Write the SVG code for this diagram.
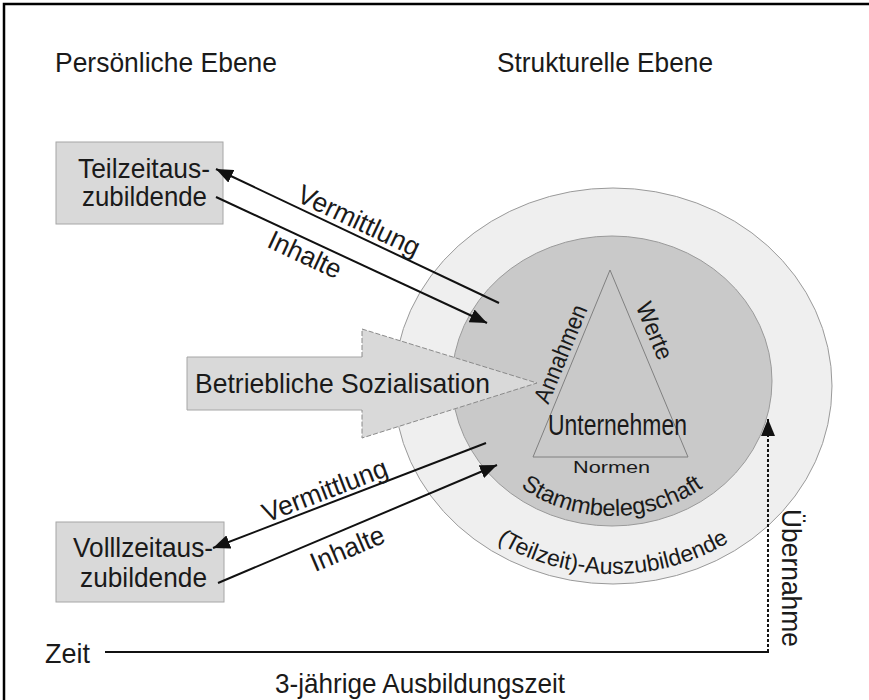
<svg xmlns="http://www.w3.org/2000/svg" width="869" height="700" viewBox="0 0 869 700">
<style>
  text { font-family: "Liberation Sans", Arial, sans-serif; fill: #1a1a1a; }
  .t28 { font-size: 28px; }
  .t27 { font-size: 27px; }
  .box { fill: #d9d9d9; stroke: #a6a6a6; stroke-width: 1; }
  .conn { stroke: #111; stroke-width: 2; fill: none; }
</style>
<defs>
  <marker id="ah" markerUnits="userSpaceOnUse" markerWidth="18" markerHeight="14" refX="17" refY="7" orient="auto">
    <path d="M0,0 L17,7 L0,14 z" fill="#111"/>
  </marker>
  <path id="arcInner" d="M 464,381 A 148 135 0 0 0 760,381"/>
  <path id="arcOuter" d="M 405,386 A 208 188 0 0 0 821,386"/>
</defs>
<rect x="0" y="0" width="869" height="700" fill="#ffffff"/>
<path d="M4,700 V4 H869" fill="none" stroke="#000" stroke-width="2.5"/>

<g id="headers">
  <text class="t28" x="55" y="72" textLength="222" lengthAdjust="spacingAndGlyphs">Persönliche Ebene</text>
  <text class="t28" x="497" y="72" textLength="216" lengthAdjust="spacingAndGlyphs">Strukturelle Ebene</text>
</g>

<g id="node-unternehmen">
  <ellipse cx="613" cy="386" rx="219" ry="198" fill="#efefef" stroke="#9a9a9a" stroke-width="1"/>
  <ellipse cx="612" cy="381" rx="160" ry="145" fill="#c9c9c9" stroke="#9a9a9a" stroke-width="1"/>
  <polygon points="610,270 533,457 688,457" fill="#c9c9c9" stroke="#808080" stroke-width="1"/>
  <text font-size="24" transform="translate(568,357) rotate(-67.6)" text-anchor="middle" textLength="104" lengthAdjust="spacingAndGlyphs">Annahmen</text>
  <text font-size="24" transform="translate(647,334) rotate(67.4)" text-anchor="middle" textLength="60" lengthAdjust="spacingAndGlyphs">Werte</text>
  <text x="548" y="435" font-size="30" textLength="139" lengthAdjust="spacingAndGlyphs">Unternehmen</text>
  <text x="573" y="473" font-size="16" textLength="77" lengthAdjust="spacingAndGlyphs">Normen</text>
  <text font-size="23.5"><textPath href="#arcInner" startOffset="50%" text-anchor="middle">Stammbelegschaft</textPath></text>
  <text font-size="23"><textPath href="#arcOuter" startOffset="50%" text-anchor="middle">(Teilzeit)-Auszubildende</textPath></text>
</g>

<g id="node-sozialisation">
  <polygon points="187,357 362,357 362,329 537,383 362,438 362,410 187,410" fill="#d9d9d9" stroke="none"/>
  <polyline points="362,357 187,357 187,410 362,410" fill="none" stroke="#a6a6a6" stroke-width="1"/>
  <polyline points="362,357 362,329 537,383 362,438 362,410" fill="none" stroke="#8a8a8a" stroke-width="1" stroke-dasharray="5,2"/>
  <text class="t28" x="195" y="393" textLength="295" lengthAdjust="spacingAndGlyphs">Betriebliche Sozialisation</text>
</g>

<g id="node-teilzeit">
  <rect class="box" x="56" y="142" width="167" height="82"/>
  <text class="t28" x="78" y="178" textLength="132" lengthAdjust="spacingAndGlyphs">Teilzeitaus-</text>
  <text class="t28" x="82" y="206" textLength="125" lengthAdjust="spacingAndGlyphs">zubildende</text>
</g>

<g id="node-vollzeit">
  <rect class="box" x="56" y="522" width="168" height="80"/>
  <text class="t28" x="73" y="557" textLength="140" lengthAdjust="spacingAndGlyphs">Volllzeitaus-</text>
  <text class="t28" x="80" y="587" textLength="127" lengthAdjust="spacingAndGlyphs">zubildende</text>
</g>

<g id="connectors">
  <line class="conn" x1="499" y1="303" x2="216" y2="169" marker-end="url(#ah)"/>
  <line class="conn" x1="216" y1="197" x2="487" y2="323" marker-end="url(#ah)"/>
  <line class="conn" x1="486" y1="443" x2="213" y2="548" marker-end="url(#ah)"/>
  <line class="conn" x1="218" y1="583" x2="497" y2="465" marker-end="url(#ah)"/>
  <line class="conn" x1="105" y1="652" x2="769" y2="652"/>
  <line x1="768" y1="652" x2="768" y2="419" stroke="#111" stroke-width="2" stroke-dasharray="3,2" marker-end="url(#ah)"/>
</g>

<g id="labels">
  <text class="t27" transform="translate(355,229) rotate(25.3)" text-anchor="middle" textLength="132" lengthAdjust="spacingAndGlyphs">Vermittlung</text>
  <text class="t27" transform="translate(301,263) rotate(25)" text-anchor="middle" textLength="78" lengthAdjust="spacingAndGlyphs">Inhalte</text>
  <text class="t27" transform="translate(328,499) rotate(-21)" text-anchor="middle" textLength="132" lengthAdjust="spacingAndGlyphs">Vermittlung</text>
  <text class="t27" transform="translate(351,557) rotate(-23)" text-anchor="middle" textLength="78" lengthAdjust="spacingAndGlyphs">Inhalte</text>
  <text class="t28" transform="translate(782,509) rotate(90)" textLength="138" lengthAdjust="spacingAndGlyphs">Übernahme</text>
  <text class="t28" x="45" y="663" textLength="45" lengthAdjust="spacingAndGlyphs">Zeit</text>
  <text class="t28" x="275" y="693" textLength="290" lengthAdjust="spacingAndGlyphs">3-jährige Ausbildungszeit</text>
</g>
</svg>
